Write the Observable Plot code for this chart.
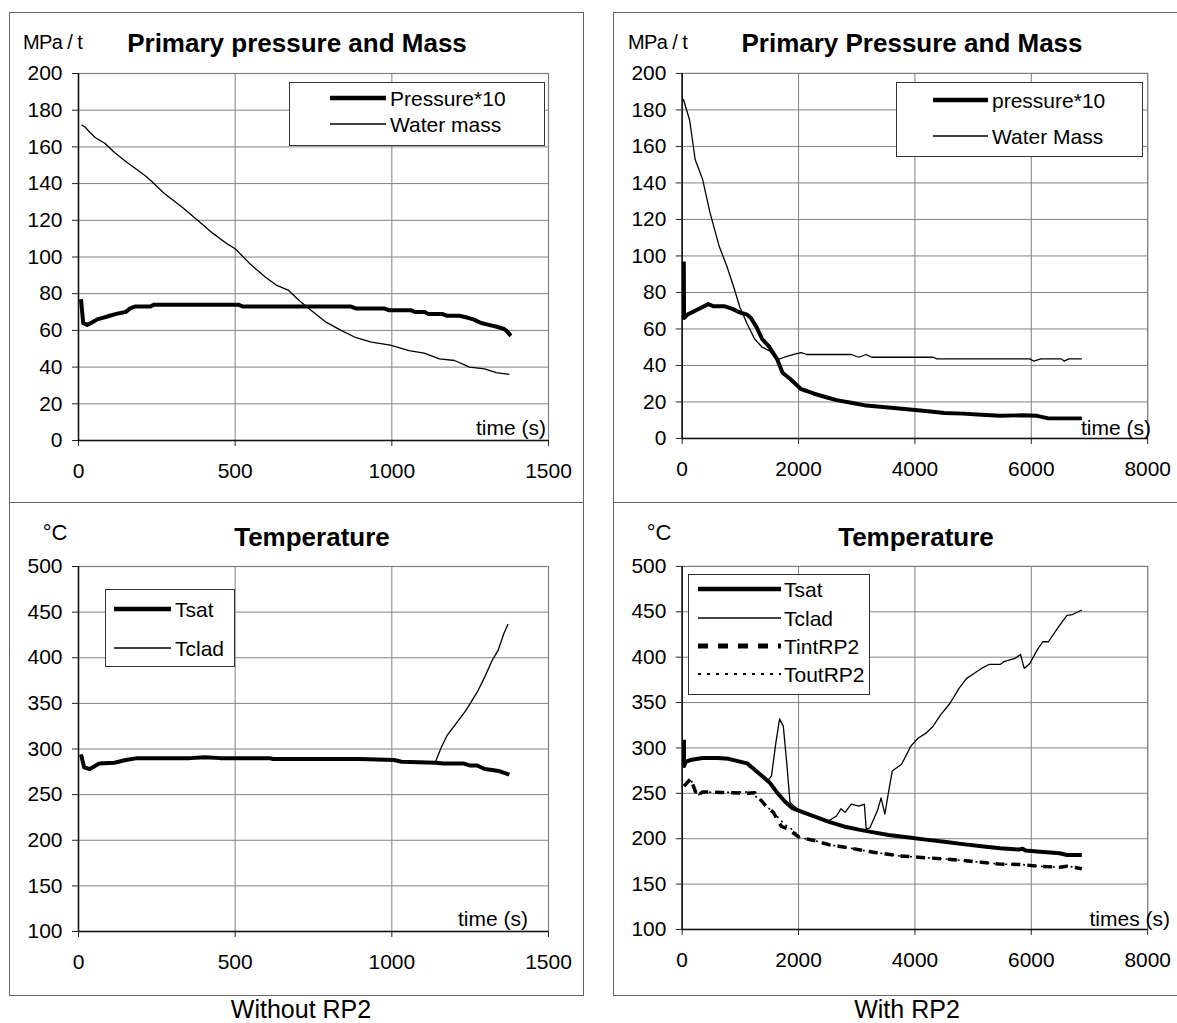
<!DOCTYPE html>
<html>
<head>
<meta charset="utf-8">
<script src="https://cdn.jsdelivr.net/npm/d3@7"></script>
<script src="https://cdn.jsdelivr.net/npm/@observablehq/plot@0.6"></script>
<style>
  html, body { margin: 0; padding: 0; background: #fff; }
  body { width: 1177px; height: 1023px; position: relative; overflow: hidden;
         font-family: "Liberation Sans", Arial, sans-serif; color: #000; }
  .abs { position: absolute; }
  .c { position: absolute; transform: translate(-50%, -50%); white-space: nowrap; line-height: 1; }
  .l { position: absolute; transform: translate(0, -50%); white-space: nowrap; line-height: 1; }
  .r { position: absolute; transform: translate(-100%, -50%); white-space: nowrap; line-height: 1; }
  .box { position: absolute; border: 1.5px solid #666; box-sizing: border-box; }
  .hr { position: absolute; height: 0; border-top: 1.5px solid #666; }
  .legend { position: absolute; border: 1.3px solid #333; background: #fff; box-sizing: border-box; }
  .legend .row { position: absolute; transform: translate(0, -50%); white-space: nowrap; line-height: 1; font-size: 21px; }
</style>
</head>
<body>
<script>
// ---------- DATA ----------
// Panel: Without RP2, primary pressure (*10) and water mass  [time s, value]
const woPressure = [[8,77],[15,64],[28,63],[40,64],[60,66],[80,67],[100,68],[120,69],[150,70],[165,72],[180,73],[230,73],[240,74],[510,74],[525,73],[870,73],[885,72],[975,72],[990,71],[1060,71],[1075,70],[1105,70],[1115,69],[1160,69],[1175,68],[1215,68],[1240,67],[1260,66],[1285,64],[1310,63],[1335,62],[1355,61],[1365,60],[1380,57]];
const woWaterMass = [[10,172],[20,171],[36,168],[54,165],[84,162],[115,157],[151,152],[175,149],[211,144.5],[235,141],[271,135],[332,127],[380,120],[428,113],[476,107],[500,104.5],[549,96],[597,89],[633,84.5],[669,82],[706,76],[742,71],[790,64.5],[838,60],[886,56],[935,53.6],[995,52],[1055,49],[1103,47.6],[1152,44.5],[1200,43.6],[1248,40],[1296,39],[1333,37],[1375,36]];
// Panel: With RP2, primary pressure (*10) and water mass
const wPressure = [[28,97],[32,66],[96,68],[224,70],[351,72],[447,73.6],[543,72.4],[735,72.4],[863,71],[990,69],[1118,67.8],[1182,66],[1278,61],[1374,54.5],[1502,50],[1629,43.6],[1725,36],[1853,32.7],[2045,27],[2141,26],[2268,24.5],[2460,22.7],[2652,21],[2907,19.6],[3163,18],[3546,17],[3866,16],[4185,15],[4505,14],[4824,13.6],[5144,13],[5464,12.4],[5847,12.7],[6102,12.4],[6294,11],[6869,11]];
const wWaterMass = [[19,186],[128,174.5],[224,152.7],[351,142],[479,123.6],[639,105],[767,94.5],[895,82],[990,72],[1118,62.7],[1246,54.5],[1374,50],[1502,48],[1629,43],[1757,44.5],[1917,46],[2045,47],[2141,46],[2907,46],[3035,44.5],[3163,46],[3259,44.5],[4313,44.5],[4377,43.6],[5975,43.6],[6039,42.4],[6166,43.6],[6518,43.6],[6563,42.4],[6646,43.6],[6869,43.6]];
// Panel: Without RP2, temperatures (°C)
const woTsat = [[8,294],[18,280],[36,278],[66,284],[115,285],[151,288],[187,290],[356,290],[404,291],[452,290],[609,290],[621,289],[898,289],[1007,288],[1031,286],[1140,285],[1164,284],[1230,284],[1248,282],[1272,282],[1296,278],[1320,277],[1345,275.6],[1375,272]];
const woTclad = [[8,294],[18,280],[36,278],[66,284],[115,285],[151,288],[187,290],[609,290],[621,289],[898,289],[1007,288],[1031,286],[1140,286.5],[1158,302],[1176,314.6],[1212,331],[1236,342],[1272,362],[1296,378.5],[1320,397],[1339,408],[1357,426],[1371,437]];
// Panel: With RP2, temperatures (°C)
const wTsat = [[30,309],[33,280],[64,285],[160,287],[351,289],[607,289],[799,288],[990,285],[1118,283],[1246,276],[1374,269],[1502,262],[1629,251],[1757,241.6],[1885,234],[2013,230.7],[2268,224.5],[2524,218.6],[2780,213.5],[3035,210],[3291,207],[3546,204],[3866,201.5],[4185,199],[4505,196.7],[4824,194],[5144,191.6],[5464,189.4],[5783,188],[5850,189],[5900,187],[6102,186],[6486,184],[6614,182],[6869,182]];
const wTclad = [[30,300],[33,280],[64,285],[160,287],[351,289],[607,289],[799,288],[990,285],[1118,283],[1246,276],[1374,269],[1470,264],[1534,269],[1610,305.5],[1674,332],[1738,324],[1802,280],[1853,240],[2013,230.7],[2268,224.5],[2500,219],[2652,225],[2729,233],[2799,229],[2907,238],[3035,236],[3131,238],[3163,210.6],[3227,212],[3355,230.7],[3419,245],[3483,227],[3546,251],[3610,274.5],[3770,282],[3930,302],[4058,311],[4185,316],[4313,324],[4441,336.5],[4601,349],[4761,366],[4888,376.7],[5016,382],[5144,387.6],[5272,392],[5464,392],[5528,395],[5719,398.6],[5815,403],[5879,387.6],[5975,393],[6102,408],[6198,417],[6294,417],[6486,435],[6614,446],[6710,447],[6869,452]];
const wTintRP2 = [[32,258],[147,266],[256,247],[351,251.5],[671,251],[1118,250],[1246,250.7],[1438,236],[1566,229],[1706,213.5],[1821,210.6],[2013,201.5],[2268,198],[2524,193.4],[2907,189.4],[3291,185],[3738,181],[4058,179.6],[4505,177.7],[4824,176],[5144,174],[5464,172],[5847,171.5],[6102,169.7],[6486,168.6],[6614,169.7],[6869,166.8]];
const wToutRP2 = [[32,258],[147,266],[256,247],[351,251.5],[671,251],[1182,251.5],[1374,240],[1566,229],[1757,216],[1917,209],[2013,201.5],[2268,198],[2524,193.4],[2907,189.4],[3291,185],[3738,181],[4058,179.6],[4505,177.7],[4824,176],[5144,174],[5464,172],[5847,171.5],[6102,169.7],[6486,168.6],[6614,170],[6869,166.8]];

// Axis ticks
const xTicksWithout = [0, 500, 1000, 1500];
const xTicksWith = [0, 2000, 4000, 6000, 8000];
const yTicksPressure = [0, 20, 40, 60, 80, 100, 120, 140, 160, 180, 200];
const yTicksTemp = [100, 150, 200, 250, 300, 350, 400, 450, 500];

// Texts
const titles = ["Primary pressure and Mass", "Primary Pressure and Mass", "Temperature", "Temperature"];
const legendLabels = [["Pressure*10", "Water mass"], ["pressure*10", "Water Mass"], ["Tsat", "Tclad"], ["Tsat", "Tclad", "TintRP2", "ToutRP2"]];
const captions = ["Without RP2", "With RP2"];

// ---------- RENDER ----------
const FONT = "'Liberation Sans', Arial, sans-serif";
const THICK = {w: 4, dash: null}, THIN = {w: 1.3, dash: null},
      DASH = {w: 3.5, dash: "9,7"}, DOT = {w: 1.6, dash: "2,4"};

function add(html) { document.body.insertAdjacentHTML("beforeend", html); }

function panel({left, top, plotW, plotH, xDomain, xTicks, yDomain, yTicks, series}) {
  const mL = 60, mR = 30, mT = 13, mB = 55;
  const chart = Plot.plot({
    width: plotW + mL + mR, height: plotH + mT + mB,
    marginLeft: mL, marginRight: mR, marginTop: mT, marginBottom: mB,
    style: {background: "none", fontFamily: FONT, fontSize: "21px", color: "#000", overflow: "visible"},
    x: {domain: xDomain},
    y: {domain: yDomain},
    marks: [
      Plot.gridX(xTicks, {stroke: "#808080", strokeOpacity: 1, strokeWidth: 1}),
      Plot.gridY(yTicks, {stroke: "#808080", strokeOpacity: 1, strokeWidth: 1}),
      Plot.frame({stroke: "#808080", strokeWidth: 1.2}),
      Plot.axisX(xTicks, {tickSize: 6, tickPadding: 17, fontSize: 21, tickFormat: d3.format("d"), label: null, stroke: "#222"}),
      Plot.axisY(yTicks, {tickSize: 6, tickPadding: 10, fontSize: 21, tickFormat: d3.format("d"), label: null, stroke: "#222"}),
      Plot.ruleX([xDomain[0]], {stroke: "#111", strokeWidth: 1.5}),
      Plot.ruleY([yDomain[0]], {stroke: "#111", strokeWidth: 1.5}),
      ...series.map(s => Plot.line(s.data, {
        x: d => d[0], y: d => d[1], stroke: "#000",
        strokeWidth: s.style.w, strokeDasharray: s.style.dash,
        strokeLinejoin: "round", strokeLinecap: "butt"
      }))
    ]
  });
  const wrap = document.createElement("div");
  wrap.className = "abs";
  wrap.style.left = (left - mL) + "px";
  wrap.style.top = (top - mT) + "px";
  wrap.appendChild(chart);
  document.body.appendChild(wrap);
}

function legend({left, top, w, h, rows, sampleX0, sampleX1, textX, labels, styles}) {
  let inner = "";
  labels.forEach((lab, i) => {
    const st = styles[i];
    const y = rows[i];
    inner += `<svg style="position:absolute;left:${sampleX0}px;top:${y - 5}px" width="${sampleX1 - sampleX0}" height="10">
      <line x1="0" y1="5" x2="${sampleX1 - sampleX0}" y2="5" stroke="#000" stroke-width="${st.lw}" ${st.dash ? `stroke-dasharray="${st.dash}"` : ""}/></svg>`;
    inner += `<div class="row" style="left:${textX}px;top:${y}px">${lab}</div>`;
  });
  add(`<div class="legend" style="left:${left}px;top:${top}px;width:${w}px;height:${h}px">${inner}</div>`);
}

// Frames
add(`<div class="box" style="left:9px;top:12px;width:575px;height:984px"></div>`);
add(`<div class="hr" style="left:9px;top:502px;width:575px"></div>`);
add(`<div class="box" style="left:613px;top:12px;width:600px;height:984px"></div>`);
add(`<div class="hr" style="left:613px;top:502px;width:600px"></div>`);

// Panels
panel({left: 78, top: 73, plotW: 470, plotH: 367, xDomain: [0, 1500], xTicks: xTicksWithout, yDomain: [0, 200], yTicks: yTicksPressure,
  series: [{data: woWaterMass, style: THIN}, {data: woPressure, style: THICK}]});
panel({left: 682, top: 73, plotW: 468, plotH: 367, xDomain: [0, 8000], xTicks: xTicksWith, yDomain: [0, 200], yTicks: yTicksPressure,
  series: [{data: wWaterMass, style: THIN}, {data: wPressure, style: THICK}]});
panel({left: 78, top: 566, plotW: 470, plotH: 365, xDomain: [0, 1500], xTicks: xTicksWithout, yDomain: [100, 500], yTicks: yTicksTemp,
  series: [{data: woTclad, style: THIN}, {data: woTsat, style: THICK}]});
panel({left: 682, top: 566, plotW: 468, plotH: 365, xDomain: [0, 8000], xTicks: xTicksWith, yDomain: [100, 500], yTicks: yTicksTemp,
  series: [{data: wToutRP2, style: DOT}, {data: wTintRP2, style: DASH}, {data: wTclad, style: THIN}, {data: wTsat, style: THICK}]});

// Titles and unit labels
add(`<div class="c" style="left:297px;top:43px;font-size:26px;font-weight:bold">${titles[0]}</div>`);
add(`<div class="c" style="left:912px;top:43px;font-size:26px;font-weight:bold">${titles[1]}</div>`);
add(`<div class="c" style="left:312px;top:537px;font-size:26px;font-weight:bold">${titles[2]}</div>`);
add(`<div class="c" style="left:916px;top:537px;font-size:26px;font-weight:bold">${titles[3]}</div>`);
add(`<div class="l" style="left:23px;top:42px;font-size:20px;letter-spacing:-0.6px">MPa / t</div>`);
add(`<div class="l" style="left:628px;top:42px;font-size:20px;letter-spacing:-0.6px">MPa / t</div>`);
add(`<div class="c" style="left:55px;top:533px;font-size:22px">°C</div>`);
add(`<div class="c" style="left:659px;top:533px;font-size:22px">°C</div>`);

// X axis names
add(`<div class="r" style="left:546px;top:427px;font-size:21px">time (s)</div>`);
add(`<div class="r" style="left:1151px;top:427px;font-size:21px">time (s)</div>`);
add(`<div class="r" style="left:528px;top:918px;font-size:21px">time (s)</div>`);
add(`<div class="r" style="left:1170px;top:918px;font-size:21px">times (s)</div>`);

// Legends
const LS = {thick: {lw: 4.5}, thin: {lw: 1.3}, dash: {lw: 5, dash: "10,10"}, dot: {lw: 2, dash: "3,6"}};
legend({left: 289, top: 82, w: 256, h: 64, rows: [15, 41], sampleX0: 40, sampleX1: 96, textX: 100,
  labels: legendLabels[0], styles: [LS.thick, LS.thin]});
legend({left: 896, top: 82, w: 247, h: 75, rows: [17, 53], sampleX0: 36, sampleX1: 91, textX: 95,
  labels: legendLabels[1], styles: [LS.thick, LS.thin]});
legend({left: 105, top: 589, w: 130, h: 78, rows: [19, 58], sampleX0: 8, sampleX1: 65, textX: 69,
  labels: legendLabels[2], styles: [LS.thick, LS.thin]});
legend({left: 688, top: 574, w: 182, h: 121, rows: [14, 43, 71, 99], sampleX0: 9, sampleX1: 92, textX: 95,
  labels: legendLabels[3], styles: [LS.thick, LS.thin, LS.dash, LS.dot]});

// Captions
add(`<div class="c" style="left:301px;top:1009px;font-size:25px">${captions[0]}</div>`);
add(`<div class="c" style="left:907px;top:1009px;font-size:25px">${captions[1]}</div>`);
</script>
</body>
</html>
